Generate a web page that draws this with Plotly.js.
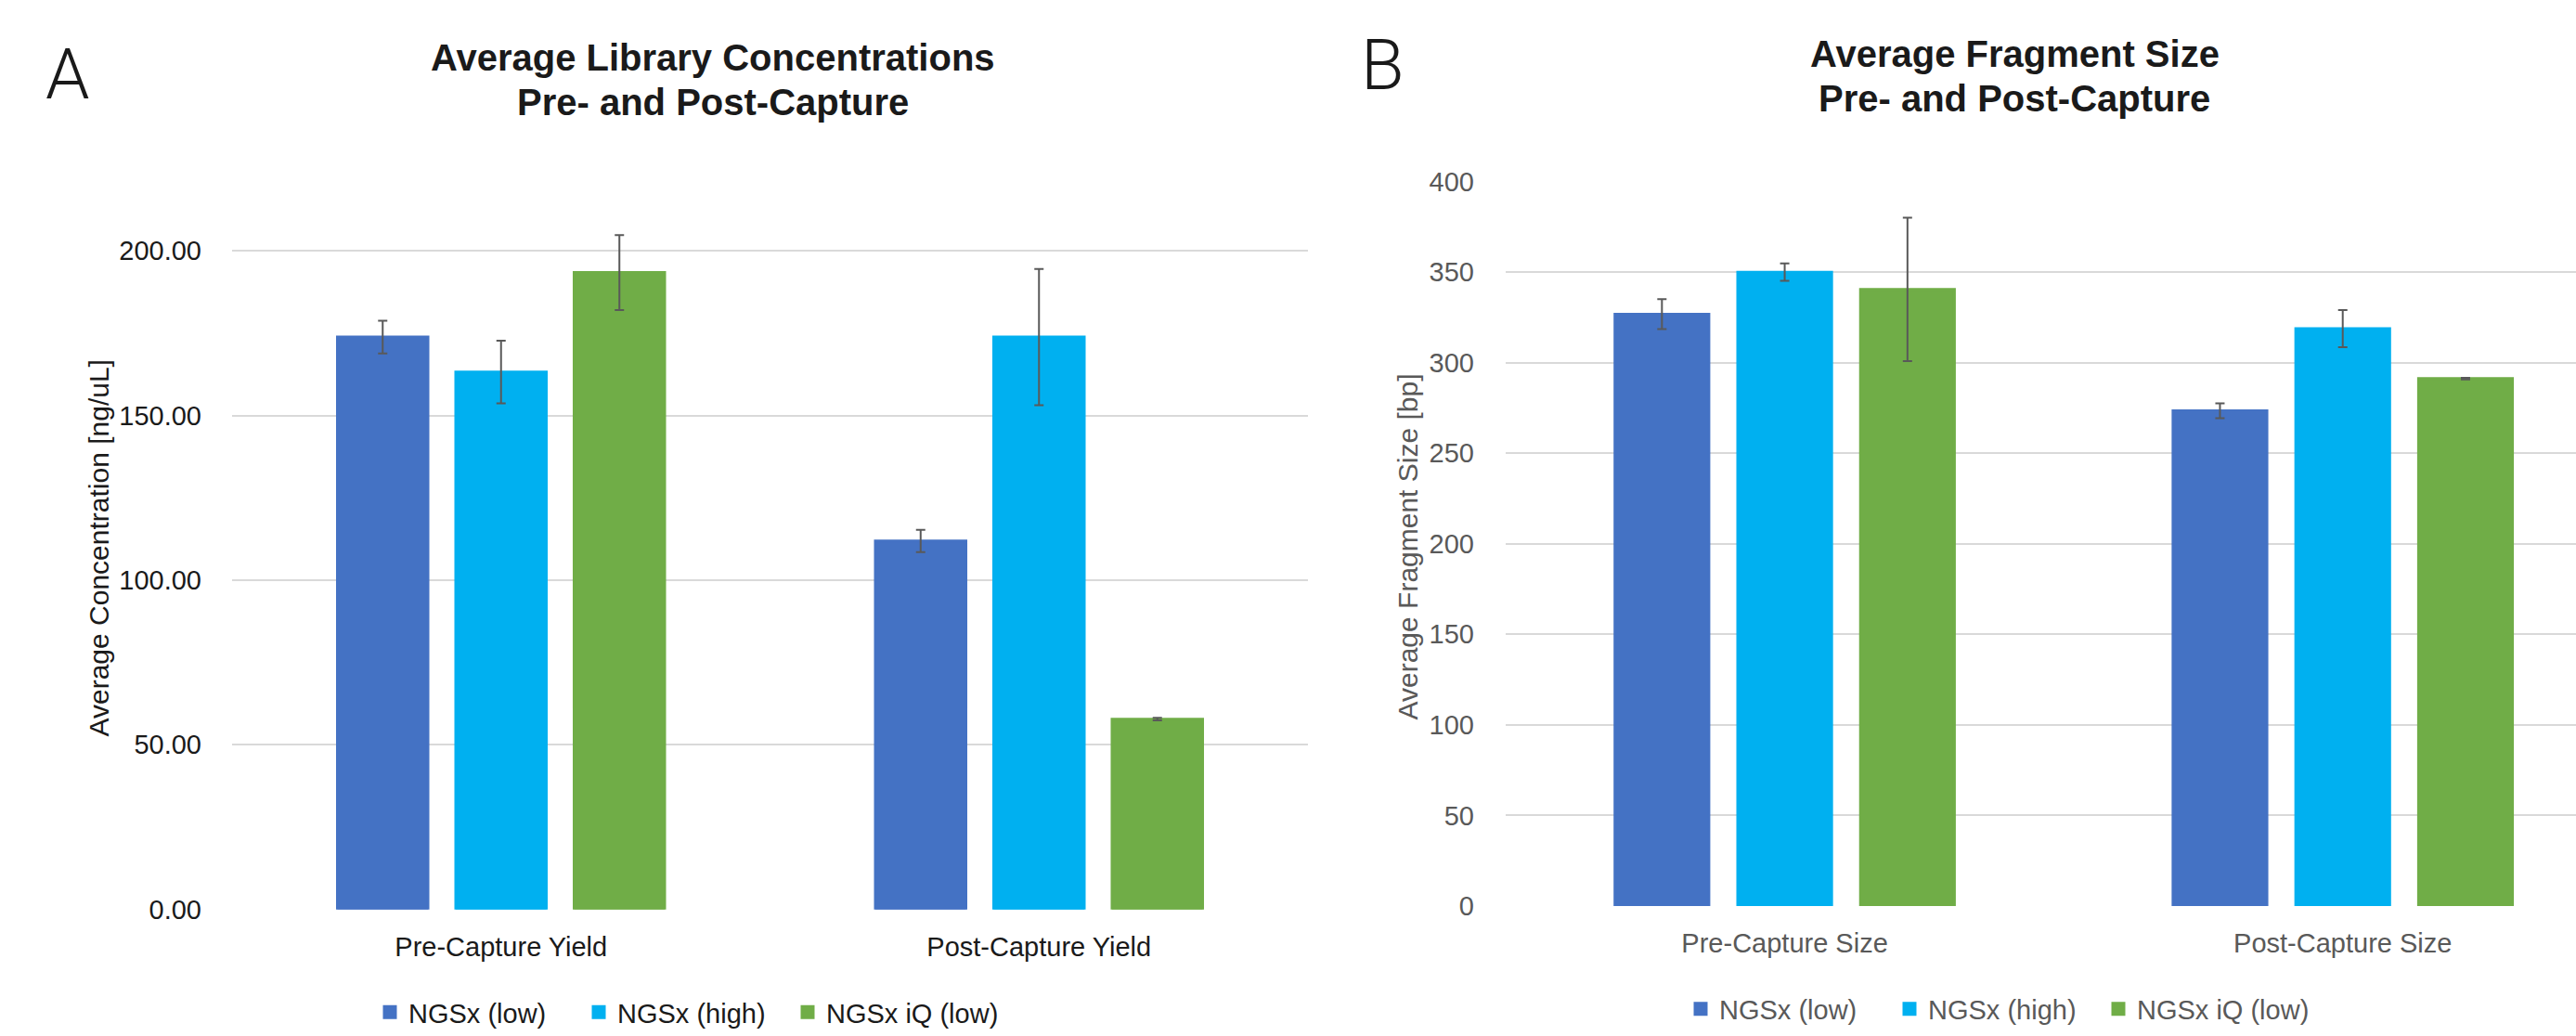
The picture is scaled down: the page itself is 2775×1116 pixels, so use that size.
<!DOCTYPE html>
<html>
<head>
<meta charset="utf-8">
<script src="https://cdn.plot.ly/plotly-3.0.1.min.js"></script>
<style>
html, body { margin: 0; padding: 0; overflow: hidden; background: #ffffff; }
#chart { width: 2775px; height: 1116px; }
</style>
</head>
<body>
<div id="chart"></div>
<script>
// ---- Data ----
const seriesNames = ['NGSx (low)', 'NGSx (high)', 'NGSx iQ (low)'];
const seriesColors = ['#4472C4', '#00B0F0', '#70AD47'];

const categoriesA = ['Pre-Capture Yield', 'Post-Capture Yield'];
const concLow = [173.8, 111.9];
const concLowErr = [5.0, 3.4];
const concHigh = [163.2, 173.8];
const concHighErr = [9.5, 20.7];
const concIQ = [193.4, 57.8];
const concIQErr = [11.4, 0.4];

const categoriesB = ['Pre-Capture Size', 'Post-Capture Size'];
const sizeLow = [326.8, 273.5];
const sizeLowErr = [8.3, 4.1];
const sizeHigh = [350.0, 318.8];
const sizeHighErr = [4.8, 10.2];
const sizeIQ = [340.5, 291.2];
const sizeIQErr = [39.6, 0.5];

const ticksA = [0, 50, 100, 150, 200];
const ticksB = [0, 50, 100, 150, 200, 250, 300, 350, 400];

// ---- Styling ----
const FONT = 'Liberation Sans, Arial, Helvetica, sans-serif';
const DARK = '#1a1a1a';
const GRAY = '#595959';
const W = 2775, H = 1116;

function mkBar(cats, vals, errs, idx, xa, ya, leg) {
  return {
    type: 'bar',
    name: seriesNames[idx],
    x: cats,
    y: vals,
    xaxis: xa,
    yaxis: ya,
    legend: leg,
    marker: { color: seriesColors[idx], line: { width: 3, color: seriesColors[idx] } },
    error_y: { type: 'data', array: errs, visible: true, color: GRAY, thickness: 2, width: 5 },
    cliponaxis: false,
    hoverinfo: 'skip'
  };
}

const data = [
  mkBar(categoriesA, concLow, concLowErr, 0, 'x', 'y', 'legend'),
  mkBar(categoriesA, concHigh, concHighErr, 1, 'x', 'y', 'legend'),
  mkBar(categoriesA, concIQ, concIQErr, 2, 'x', 'y', 'legend'),
  mkBar(categoriesB, sizeLow, sizeLowErr, 0, 'x2', 'y2', 'legend2'),
  mkBar(categoriesB, sizeHigh, sizeHighErr, 1, 'x2', 'y2', 'legend2'),
  mkBar(categoriesB, sizeIQ, sizeIQErr, 2, 'x2', 'y2', 'legend2')
];

const px = v => v / W;
const py = v => 1 - v / H;

const layout = {
  width: W,
  height: H,
  margin: { l: 0, r: 0, t: 0, b: 0, pad: 0 },
  paper_bgcolor: '#ffffff',
  plot_bgcolor: '#ffffff',
  font: { family: FONT, color: DARK },
  barmode: 'group',
  bargap: 0.34,
  bargroupgap: 0.235,
  showlegend: true,
  xaxis: {
    domain: [px(250), px(1409)],
    anchor: 'y',
    type: 'category',
    range: [-0.5, 1.5],
    showgrid: false, zeroline: false, showline: false,
    ticks: '',
    tickfont: { family: FONT, size: 29, color: DARK },
    ticklabelstandoff: 20,
    fixedrange: true
  },
  yaxis: {
    domain: [py(980.6), py(234.9)],
    anchor: 'x',
    range: [0, 210],
    tickvals: ticksA,
    tickformat: '.2f',
    showgrid: true, gridcolor: '#D9D9D9', gridwidth: 2,
    zeroline: false, showline: false,
    ticks: '',
    tickfont: { family: FONT, size: 29, color: DARK },
    ticklabelstandoff: 32,
    fixedrange: true
  },
  xaxis2: {
    domain: [px(1622), 1],
    anchor: 'y2',
    type: 'category',
    range: [-0.5, 1.418],
    showgrid: false, zeroline: false, showline: false,
    ticks: '',
    tickfont: { family: FONT, size: 29, color: GRAY },
    ticklabelstandoff: 20,
    fixedrange: true
  },
  yaxis2: {
    domain: [py(976.8), py(195.8)],
    anchor: 'x2',
    range: [0, 400],
    tickvals: ticksB,
    showgrid: true, gridcolor: '#D9D9D9', gridwidth: 2,
    zeroline: false, showline: false,
    ticks: '',
    tickfont: { family: FONT, size: 29, color: GRAY },
    ticklabelstandoff: 33,
    fixedrange: true
  },
  legend: {
    orientation: 'h',
    x: px(400), xanchor: 'left',
    y: py(1091), yanchor: 'middle',
    font: { family: FONT, size: 29, color: DARK },
    bgcolor: 'rgba(0,0,0,0)',
    entrywidth: 180,
    traceorder: 'normal'
  },
  legend2: {
    orientation: 'h',
    x: px(1812), xanchor: 'left',
    y: py(1087), yanchor: 'middle',
    font: { family: FONT, size: 29, color: GRAY },
    bgcolor: 'rgba(0,0,0,0)',
    entrywidth: 180,
    traceorder: 'normal'
  },
  annotations: [
    { text: 'A', xref: 'paper', yref: 'paper', x: px(73), y: py(80), xanchor: 'center', yanchor: 'middle',
      showarrow: false, font: { family: 'Roboto, ' + FONT, size: 76, color: DARK, weight: 300 } },
    { text: 'B', xref: 'paper', yref: 'paper', x: px(1490), y: py(70), xanchor: 'center', yanchor: 'middle',
      showarrow: false, font: { family: 'Roboto, ' + FONT, size: 76, color: DARK, weight: 300 } },
    { text: '<b>Average Library Concentrations</b>', xref: 'paper', yref: 'paper', x: px(768), y: py(62), xanchor: 'center', yanchor: 'middle',
      showarrow: false, font: { family: FONT, size: 40, color: DARK } },
    { text: '<b>Pre- and Post-Capture</b>', xref: 'paper', yref: 'paper', x: px(768), y: py(110), xanchor: 'center', yanchor: 'middle',
      showarrow: false, font: { family: FONT, size: 40, color: DARK } },
    { text: '<b>Average Fragment Size</b>', xref: 'paper', yref: 'paper', x: px(2170), y: py(58), xanchor: 'center', yanchor: 'middle',
      showarrow: false, font: { family: FONT, size: 40, color: DARK } },
    { text: '<b>Pre- and Post-Capture</b>', xref: 'paper', yref: 'paper', x: px(2170), y: py(106), xanchor: 'center', yanchor: 'middle',
      showarrow: false, font: { family: FONT, size: 40, color: DARK } },
    { text: 'Average Concentration [ng/uL]', xref: 'paper', yref: 'paper', x: px(106), y: py(591), xanchor: 'center', yanchor: 'middle',
      textangle: -90, showarrow: false, font: { family: FONT, size: 30, color: DARK } },
    { text: 'Average Fragment Size [bp]', xref: 'paper', yref: 'paper', x: px(1516), y: py(590), xanchor: 'center', yanchor: 'middle',
      textangle: -90, showarrow: false, font: { family: FONT, size: 30, color: GRAY } }
  ]
};

Plotly.newPlot('chart', data, layout, { staticPlot: true, displayModeBar: false });
</script>
</body>
</html>
